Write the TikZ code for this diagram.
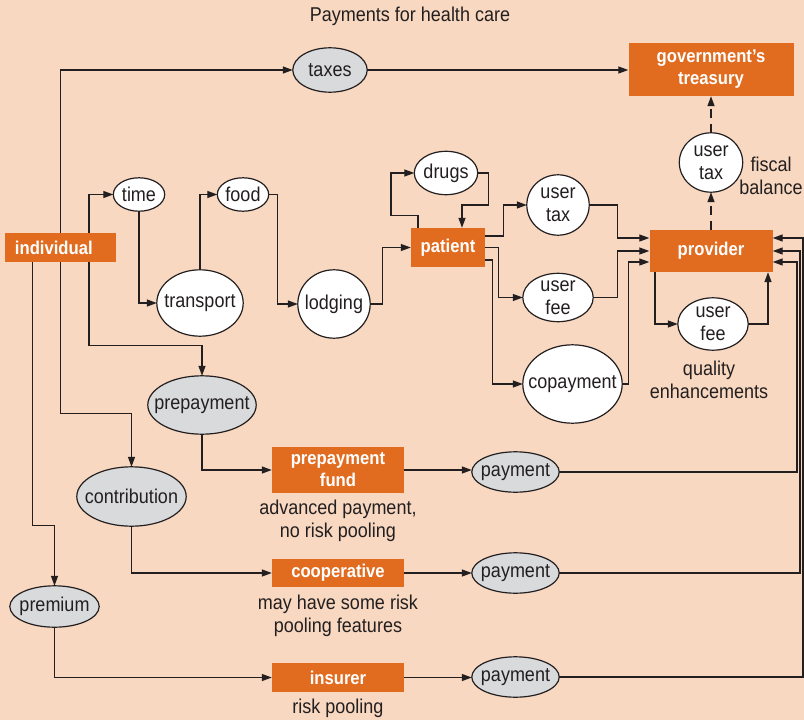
\documentclass[tikz,border=0pt]{standalone}
\usepackage{fontspec}
\setmainfont[FakeStretch=0.9]{Liberation Sans}
\usepackage{tikz}
\usetikzlibrary{arrows.meta, positioning, calc, backgrounds}
\definecolor{hcBg}{RGB}{248,216,192}
\definecolor{hcOrange}{RGB}{225,108,32}
\definecolor{hcGray}{RGB}{217,218,220}
\definecolor{hcLine}{RGB}{35,31,32}

\begin{document}
\begin{tikzpicture}[x=1bp, y=-1bp,
    every node/.style={font=\fontsize{20bp}{23bp}\selectfont, text=hcLine},
    box/.style={fill=hcOrange, text=white, inner sep=0pt, align=center,
                font=\fontsize{18.5bp}{22bp}\selectfont\bfseries},
    oval/.style={inner sep=0pt, align=center},
    ovalrim/.style={draw=hcLine, line width=1.2bp},
    note/.style={align=center},
    link/.style={draw=hcLine, line width=1.3bp, -{Triangle[length=10bp,width=7bp]}},
    dlink/.style={link, dash pattern=on 9bp off 6bp}
  ]
  \useasboundingbox (0,0) rectangle (804,720);

  \node[note] (title) at (410,16) {Payments for health care};

  % boxes
  \node[box, minimum width=165bp, minimum height=53bp] (treasury) at (711,69.5) {government’s\\treasury};
  \node[box, minimum width=111bp, minimum height=29bp, align=left,
        text width=91bp, inner xsep=10bp] (individual) at (60.5,247.5) {individual};
  \node[box, minimum width=74bp, minimum height=39bp] (patient) at (448,247.5) {patient};
  \node[box, minimum width=123bp, minimum height=42bp] (provider) at (711,251) {provider};
  \node[box, minimum width=132bp, minimum height=46bp] (fund) at (338,470) {prepayment\\fund};
  \node[box, minimum width=132bp, minimum height=28bp] (coop) at (338,573) {cooperative};
  \node[box, minimum width=132bp, minimum height=29bp] (insurer) at (338,677.5) {insurer};

  % ovals (rims drawn below)
  \node[oval, minimum width=74bp, minimum height=44bp] (taxes) at (330,70) {taxes};
  \node[oval, minimum width=51bp, minimum height=33bp] (time) at (139,194.5) {time};
  \node[oval, minimum width=51bp, minimum height=33bp] (food) at (243,194.5) {food};
  \node[oval, minimum width=86bp, minimum height=66bp] (transport) at (200,303) {transport};
  \node[oval, minimum width=72bp, minimum height=68bp] (lodging) at (334,304) {lodging};
  \node[oval, minimum width=63bp, minimum height=43bp] (drugs) at (446,173) {drugs};
  \node[oval, minimum width=62bp, minimum height=60bp] (utax) at (558,205) {user\\tax};
  \node[oval, minimum width=70bp, minimum height=48bp] (ufee) at (558,297.5) {user\\fee};
  \node[oval, minimum width=99bp, minimum height=78bp] (copay) at (572.5,384) {copayment};
  \node[oval, minimum width=63bp, minimum height=59bp] (utaxp) at (711,162.5) {user\\tax};
  \node[oval, minimum width=70bp, minimum height=52bp] (ufeep) at (713,324) {user\\fee};
  \node[oval, minimum width=108bp, minimum height=58bp] (prepay) at (202,405) {prepayment};
  \node[oval, minimum width=109bp, minimum height=59bp] (contrib) at (131.5,496.5) {contribution};
  \node[oval, minimum width=89bp, minimum height=41bp] (premium) at (54.5,606.5) {premium};
  \node[oval, minimum width=87bp, minimum height=40bp] (pay1) at (515.5,472) {payment};
  \node[oval, minimum width=87bp, minimum height=40bp] (pay2) at (515.5,573) {payment};
  \node[oval, minimum width=87bp, minimum height=40bp] (pay3) at (515.5,677) {payment};

  \begin{scope}[on background layer]
    \fill[hcBg] (0,0) rectangle (804,720);
    \foreach \o in {time,food,transport,lodging,drugs,utax,ufee,copay,utaxp,ufeep}
      \path[ovalrim, fill=white] let \p1=(\o.north east), \p2=(\o.center) in
        (\p2) ellipse [x radius=\x1-\x2, y radius=\y1-\y2];
    \foreach \o in {taxes,prepay,contrib,premium,pay1,pay2,pay3}
      \path[ovalrim, fill=hcGray] let \p1=(\o.north east), \p2=(\o.center) in
        (\p2) ellipse [x radius=\x1-\x2, y radius=\y1-\y2];
  \end{scope}

  % notes
  \node[note] (fiscal) at (771,176) {fiscal\\balance};
  \node[note] (quality) at (709,380) {quality\\enhancements};
  \node[note] (fundnote) at (338,521) {advanced payment,\\no risk pooling};
  \node[note] (coopnote) at (338,616) {may have some risk\\pooling features};
  \node[note] (insnote) at (338,708) {risk pooling};

  % individual and taxes
  \draw[link] (individual.north) |- (taxes.west);
  \draw[link] (taxes.east) -- (taxes.east -| treasury.west);

  % costs of reaching care
  \draw[link] ([xshift=28.5bp]individual.north) |- (time.west);
  \draw[link] (time.south) |- (transport.west);
  \draw[link] (transport.north) |- (food.west);
  \draw[link] (food.east) -- ++(9,0) |- (lodging.west);
  \draw[link] (lodging.east) -- ++(12,0) |- (patient.west);
  \draw[link] ([xshift=-30bp]patient.north) -- ++(0,-12) -- ++(-27,0) |- (drugs.west);
  \draw[link] (drugs.east) -- ++(11,0) -- ++(0,32) -| ([xshift=14bp]patient.north);

  % patient to provider
  \draw[link] ([yshift=11.5bp]patient.east) -- ++(18,0) |- (utax.west);
  \draw[link] (patient.east) -- ++(13,0) |- (ufee.west);
  \draw[link] ([yshift=-12.5bp]patient.east) -- ++(7,0) |- (copay.west);
  \draw[link] (utax.east) -- ++(28,0) |- ([yshift=13bp]provider.west);
  \draw[link] (ufee.east) -- ++(24,0) |- (provider.west);
  \draw[link] (copay.east) -- ++(6,0) |- ([yshift=-11bp]provider.west);
  \draw[link] ([xshift=-56bp]provider.south) |- (ufeep.west);
  \draw[link] (ufeep.east) -| ([xshift=57bp]provider.south);
  \draw[dlink] (provider.north) -- (utaxp.south);
  \draw[dlink] (utaxp.north) -- (treasury.south);

  % prepaid routes
  \draw[link] ([xshift=28.5bp]individual.south) -- ++(0,83) -| (prepay.north);
  \draw[link] (individual.south) -- ++(0,151) -| (contrib.north);
  \draw[link] ([xshift=-28bp]individual.south) -- ++(0,263) -| (premium.north);
  \draw[link] (prepay.south) |- (fund.west);
  \draw[link] (contrib.south) |- (coop.west);
  \draw[link] (premium.south) |- (insurer.west);

  % payments back to provider
  \coordinate (r1) at (797,0);
  \coordinate (r2) at (800,0);
  \coordinate (r3) at (803,0);
  \foreach \b/\q/\r/\s in {fund/pay1/r1/-11, coop/pay2/r2/0, insurer/pay3/r3/13} {
    \draw[link] (\b.east) -- (\b.east -| \q.west);
    \draw[link] (\q.east) -- (\q -| \r) |- ([yshift=\s bp]provider.east);
  }
\end{tikzpicture}
\end{document}
